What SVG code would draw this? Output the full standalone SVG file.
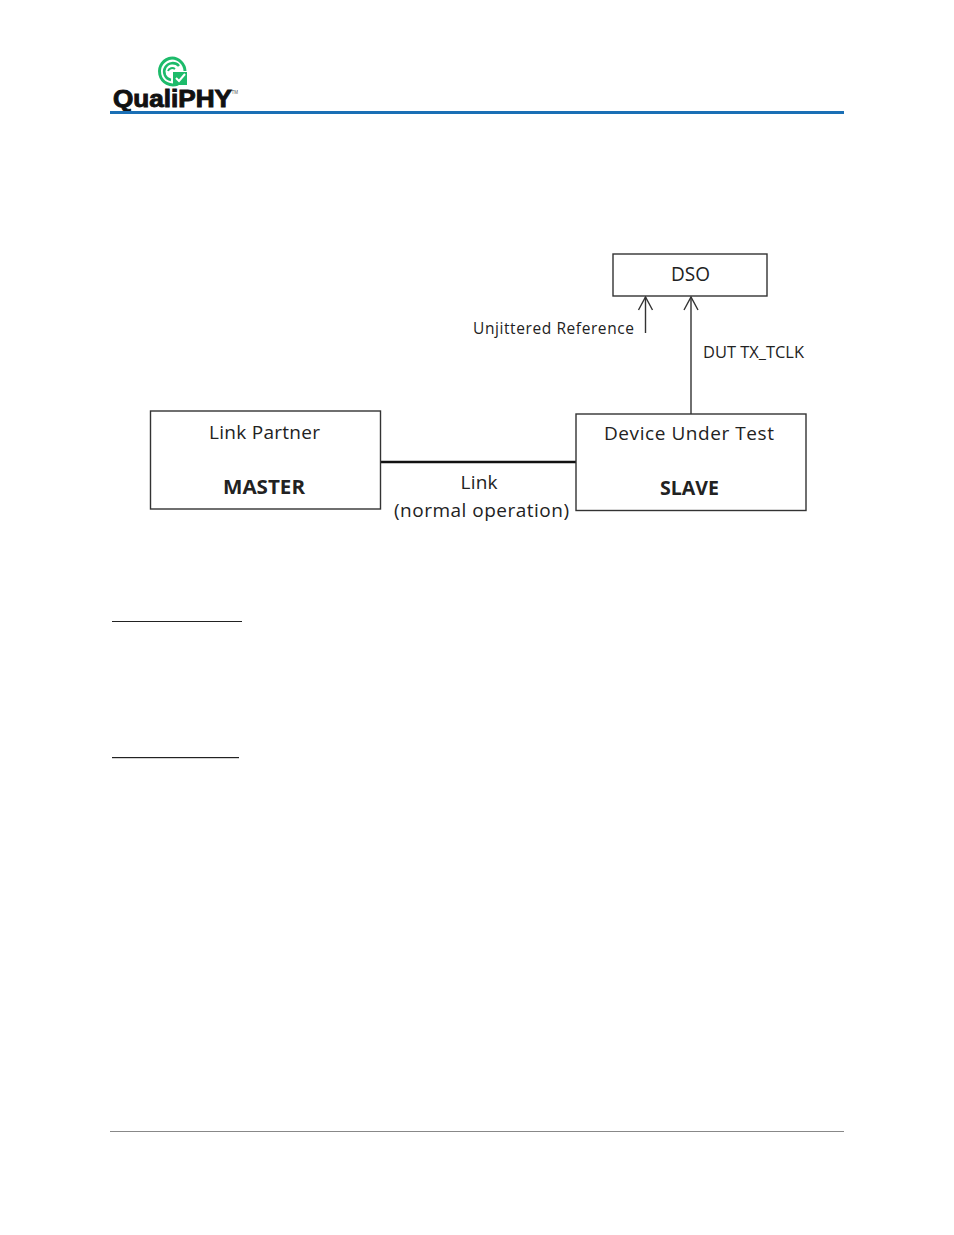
<svg xmlns="http://www.w3.org/2000/svg" width="954" height="1235" viewBox="0 0 954 1235">
<defs>
<style>
.t{font-family:"Open Sans","Liberation Sans",sans-serif;fill:#222;text-anchor:middle}
.b{fill:#fff;stroke:#333;stroke-width:1.4}
.c{fill:none;stroke:#333;stroke-width:1.4}
</style>
<marker id="a" markerUnits="userSpaceOnUse" markerWidth="16" markerHeight="18" refX="14" refY="8" orient="auto" viewBox="0 0 16 16"><path d="M1 1L14 8L1 15" fill="none" stroke="#333" stroke-width="1.4"/></marker>
</defs>
<rect width="954" height="1235" fill="#fff"/>
<g id="logo">
<path d="M172 58a13.500 13.500 0 1 0 6 26" fill="none" stroke="#1dbb6a" stroke-width="3"/>
<path d="M172 58a13.500 13.500 0 0 1 13 13" fill="none" stroke="#1dbb6a" stroke-width="3"/>
<path d="M179 66a8.500 8.500 0 1 0 -8 14" fill="none" stroke="#1dbb6a" stroke-width="2.600"/>
<path d="M168 71a4.500 4.500 0 0 1 7-2" fill="none" stroke="#1dbb6a" stroke-width="2"/>
<rect x="173" y="72" width="14" height="13" fill="#1dbb6a"/>
<path d="M176 78l3 3l6-7" fill="none" stroke="#fff" stroke-width="2"/>
<text x="113" y="107" font-family="Liberation Sans,sans-serif" font-weight="700" font-size="23" textLength="119" lengthAdjust="spacingAndGlyphs" fill="#111" stroke="#111" stroke-width=".9">QualiPHY</text>
<text x="231.500" y="94" font-family="Liberation Sans,sans-serif" font-size="4.500" fill="#555">TM</text>
</g>
<rect id="header-rule" x="110" y="111" width="734" height="3" fill="#1a6fb5"/>
<rect id="footer-rule" x="110" y="1131" width="734" height="1" fill="#888"/>
<g id="connectors">
<path class="c" d="M645.500 333V297" marker-end="url(#a)"/>
<path class="c" d="M691 414V297" marker-end="url(#a)"/>
<path d="M380 462H576" fill="none" stroke="#111" stroke-width="2.600"/>
</g>
<g id="dso"><rect class="b" x="613" y="254" width="154" height="42"/><text class="t" x="690.500" y="281" font-size="19.500" textLength="39" lengthAdjust="spacingAndGlyphs">DSO</text></g>
<g id="link-partner"><rect class="b" x="150.500" y="411" width="230" height="98"/><text class="t" x="264.500" y="439" font-size="19" textLength="111" lengthAdjust="spacing">Link Partner</text><text class="t" x="264" y="494" font-size="19" font-weight="700" textLength="82" lengthAdjust="spacingAndGlyphs">MASTER</text></g>
<g id="dut"><rect class="b" x="576" y="414" width="230" height="96.500"/><text class="t" x="689" y="440" font-size="19" textLength="170" lengthAdjust="spacing">Device Under Test</text><text class="t" x="689.500" y="495" font-size="19" font-weight="700" textLength="59" lengthAdjust="spacingAndGlyphs">SLAVE</text></g>
<text class="t" x="553.500" y="334" font-size="15.500" textLength="161" lengthAdjust="spacing" id="label-ref">Unjittered Reference</text>
<text class="t" x="753.500" y="358" font-size="15.500" textLength="101" lengthAdjust="spacingAndGlyphs" id="label-tclk">DUT TX_TCLK</text>
<text class="t" x="479" y="489" font-size="19" textLength="37" lengthAdjust="spacing" id="label-link">Link</text>
<text class="t" x="481.500" y="517" font-size="19" textLength="175" lengthAdjust="spacing" id="label-op">(normal operation)</text>
<rect id="rule-1" x="112" y="621" width="130" height="1" fill="#222"/>
<rect id="rule-2" x="112" y="757" width="127" height="1.200" fill="#222"/>
</svg>
